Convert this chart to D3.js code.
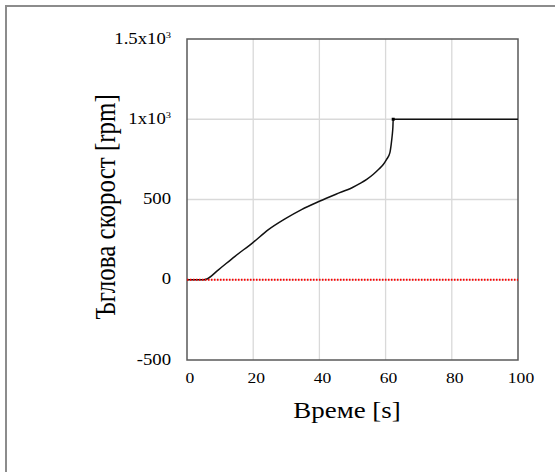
<!DOCTYPE html>
<html>
<head>
<meta charset="utf-8">
<script src="https://cdn.jsdelivr.net/npm/d3@7"></script>
<style>
    body { margin: 0; background: #fff; }
    text { font-family: "Liberation Serif", "Times New Roman", "DejaVu Serif", serif; fill: #000; }
</style>
</head>
<body>
<div id="chart"></div>
<script>
// data
let time =  [0, 5, 6, 9.5, 14.5, 20, 24.6, 29.6, 34.6, 40, 45, 50, 52.3, 54.3, 56.3, 58, 59.3, 60.3, 61.3, 61.7, 62, 62.2, 62.3, 70, 80, 90, 100];
let speed = [0, 0, 5, 62, 146, 233, 312, 379, 437, 489, 533, 575, 600, 625, 657, 690, 718, 750, 792, 845, 900, 950, 1000, 1000, 1000, 1000, 1000];
let refTime = [0, 100];
let refSpeed = [0, 0];

let xTicks = [0, 20, 40, 60, 80, 100];
let yTicks = [-500, 0, 500, 1000, 1500];
let yTickLabels = {"-500": ["-500"], "0": ["0"], "500": ["500"], "1000": ["1x10", "3"], "1500": ["1.5x10", "3"]};

let xTitle = "Време [s]";
let yTitle = "Ъглова скорост [rpm]";

let width = 555, height = 472;
let margin = {top: 39, right: 37, bottom: 112, left: 187};
let stretch = 1.17; // text in the picture is a bit wider than normal

let svg = d3.select("#chart").append("svg")
    .attr("width", width)
    .attr("height", height);

// outer frame
svg.append("rect")
    .attr("x", 6).attr("y", 6)
    .attr("width", 600).attr("height", 500)
    .attr("fill", "none")
    .attr("stroke", "#8c8c8c")
    .attr("stroke-width", 2);

let x = d3.scaleLinear().domain([0, 100]).range([margin.left, width - margin.right]);
let y = d3.scaleLinear().domain([-500, 1500]).range([height - margin.bottom, margin.top]);

// grid
svg.append("g").selectAll("line").data(xTicks.slice(1, -1)).enter().append("line")
    .attr("x1", d => x(d)).attr("x2", d => x(d))
    .attr("y1", y(-500)).attr("y2", y(1500))
    .attr("stroke", "#d9d9d9").attr("stroke-width", 1.3);
svg.append("g").selectAll("line").data(yTicks.slice(1, -1)).enter().append("line")
    .attr("x1", x(0)).attr("x2", x(100))
    .attr("y1", d => y(d)).attr("y2", d => y(d))
    .attr("stroke", "#d9d9d9").attr("stroke-width", 1.3);

// plot frame
svg.append("rect")
    .attr("x", x(0)).attr("y", y(1500))
    .attr("width", x(100) - x(0)).attr("height", y(-500) - y(1500))
    .attr("fill", "none")
    .attr("stroke", "#595959")
    .attr("stroke-width", 1.5);

// x tick labels
svg.append("g").selectAll("text").data(xTicks).enter().append("text")
    .attr("transform", d => `translate(${x(d) + 3}, ${y(-500) + 23}) scale(${stretch}, 1)`)
    .attr("text-anchor", "middle")
    .attr("font-size", 15)
    .text(d => d);

// y tick labels
let yl = svg.append("g").selectAll("text").data(yTicks).enter().append("text")
    .attr("transform", d => `translate(171, ${y(d) + 4.5}) scale(${stretch}, 1)`)
    .attr("text-anchor", "end")
    .attr("font-size", 16);
yl.append("tspan").text(d => yTickLabels[d][0]);
yl.filter(d => yTickLabels[d].length > 1).append("tspan")
    .attr("font-size", 9)
    .attr("dy", -6)
    .text(d => yTickLabels[d][1]);

// titles
svg.append("text")
    .attr("transform", `translate(347, 418) scale(${stretch}, 1)`)
    .attr("text-anchor", "middle")
    .attr("font-size", 23)
    .text(xTitle);
svg.append("text")
    .attr("transform", `translate(115, 207) rotate(-90) scale(1, ${stretch})`)
    .attr("text-anchor", "middle")
    .attr("font-size", 25)
    .text(yTitle);

let line = d3.line()
    .x(d => x(d[0]))
    .y(d => y(d[1]))
    .curve(d3.curveMonotoneX);

// speed curve
svg.append("path")
    .datum(time.map((t, i) => [t, speed[i]]))
    .attr("d", line)
    .attr("fill", "none")
    .attr("stroke", "#111")
    .attr("stroke-width", 1.5);

// marker at the jump
svg.append("rect")
    .attr("x", x(62.3) - 1.5).attr("y", y(1000) - 1.5)
    .attr("width", 3).attr("height", 3)
    .attr("fill", "#000");

// reference line at zero
svg.append("path")
    .datum(refTime.map((t, i) => [t, refSpeed[i]]))
    .attr("d", d3.line().x(d => x(d[0])).y(d => y(d[1])))
    .attr("fill", "none")
    .attr("stroke", "#ff0000")
    .attr("stroke-width", 2)
    .attr("stroke-dasharray", "1.5,1.5");
</script>
</body>
</html>
